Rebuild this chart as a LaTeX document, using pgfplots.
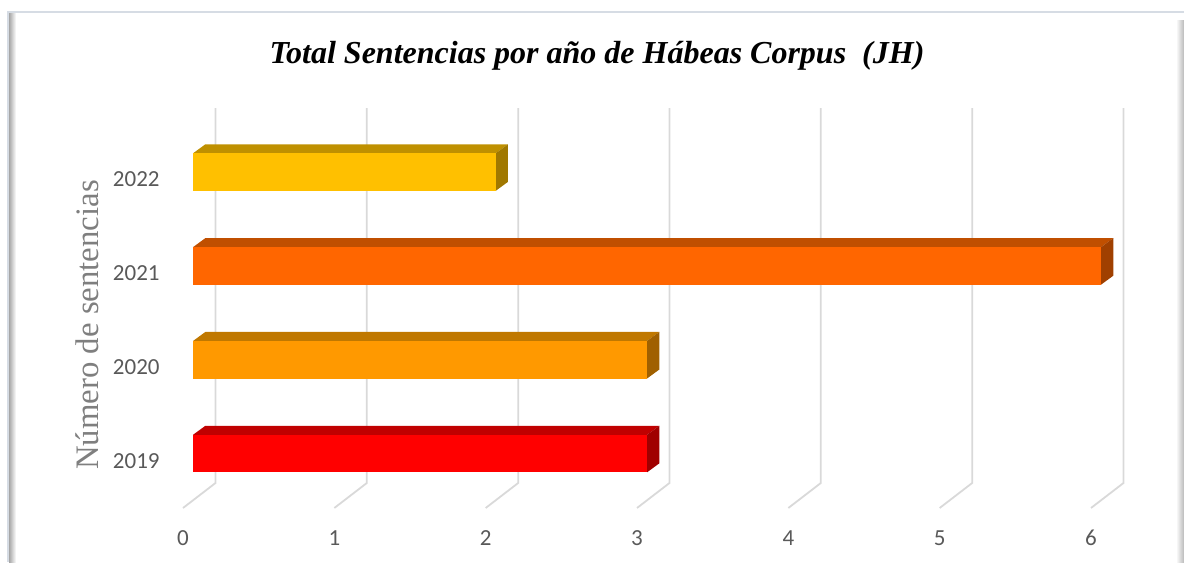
\documentclass[border=0pt]{standalone}
\usepackage{pgfplots}
\pgfplotsset{compat=1.18}
\usepackage{fontspec}
\setmainfont{Liberation Serif}
\newfontfamily\carlito{Carlito}

\definecolor{gridc}{HTML}{D9D9D9}
\definecolor{tickc}{HTML}{595959}
\definecolor{labelc}{HTML}{7F7F7F}
\definecolor{framec}{HTML}{D6DCE4}
% front / top / side of each bar
\definecolor{fA}{HTML}{FF0000}\definecolor{tA}{HTML}{C00000}\definecolor{sA}{HTML}{A00000}
\definecolor{fB}{HTML}{FF9900}\definecolor{tB}{HTML}{C07800}\definecolor{sB}{HTML}{A06000}
\definecolor{fC}{HTML}{FF6600}\definecolor{tC}{HTML}{C04F00}\definecolor{sC}{HTML}{A04000}
\definecolor{fD}{HTML}{FFC000}\definecolor{tD}{HTML}{BF9000}\definecolor{sD}{HTML}{A07800}

\begin{document}
\begin{tikzpicture}
\useasboundingbox (0pt,0pt) rectangle (592pt,282pt);
% chart frame and shadow
\shade[left color=gray!70, right color=white] (4.5pt,1pt) rectangle (8pt,275.5pt);
\shade[left color=white, right color=gray!55] (588pt,1pt) rectangle (592pt,272pt);
\draw[framec, line width=0.8pt] (4pt,1pt) -- (4pt,276pt) -- (592pt,276pt);

\node[anchor=base, font=\bfseries\itshape\fontsize{16}{19}\selectfont]
  at (298.5pt,250.5pt) {Total Sentencias por año de Hábeas Corpus~~(JH)};

% floor / wall plane: gridlines, ticks, labels
\begin{axis}[
  at={(91.5pt,28pt)}, anchor=south west,
  x=75.667pt, y=46.915pt,
  xmin=0, xmax=6, ymin=-0.5, ymax=3.77,
  axis lines*=left, axis line style={draw=none,-},
  xtick={0,1,2,3,4,5,6},
  ytick={0,1,2,3}, yticklabels={2019,2020,2021,2022},
  major tick length=0pt,
  /pgf/number format/assume math mode=true,
  ticklabel style={font=\carlito\fontsize{11.5}{13}\selectfont, text=tickc, inner sep=0pt},
  xticklabel style={anchor=center, yshift=-15pt},
  yticklabel style={anchor=east, xshift=-11.5pt},
  ylabel={Número de sentencias},
  ylabel style={at={(axis description cs:-0.1057,0.4568)}, anchor=center,
    font=\fontsize{16.4}{19}\selectfont, text=labelc},
  clip=false,
]
\addplot[gridc, line width=0.9pt] coordinates {(0,-0.5) (0.2148,-0.2335) (0.2148,3.762)};
\addplot[gridc, line width=0.9pt] coordinates {(1,-0.5) (1.2148,-0.2335) (1.2148,3.762)};
\addplot[gridc, line width=0.9pt] coordinates {(2,-0.5) (2.2148,-0.2335) (2.2148,3.762)};
\addplot[gridc, line width=0.9pt] coordinates {(3,-0.5) (3.2148,-0.2335) (3.2148,3.762)};
\addplot[gridc, line width=0.9pt] coordinates {(4,-0.5) (4.2148,-0.2335) (4.2148,3.762)};
\addplot[gridc, line width=0.9pt] coordinates {(5,-0.5) (5.2148,-0.2335) (5.2148,3.762)};
\addplot[gridc, line width=0.9pt] coordinates {(6,-0.5) (6.2148,-0.2335) (6.2148,3.762)};
\end{axis}

% bar plane, set back a little into the depth
\begin{axis}[
  at={(96.5pt,31.75pt)}, anchor=south west,
  x=75.667pt, y=46.915pt,
  xmin=0, xmax=6, ymin=-0.5, ymax=3.77,
  hide axis, clip=false,
  every axis plot/.append style={draw=none},
]
% 2019 : 3
\addplot[fill=tA] coordinates {(0,0.2) (3,0.2) (3.0813,0.2959) (0.0813,0.2959)};
\addplot[fill=sA] coordinates {(3,-0.2) (3,0.2) (3.0813,0.2959) (3.0813,-0.1041)};
\addplot[xbar, bar width=18.75pt, bar shift=0pt, fill=fA] coordinates {(3,0)};
% 2020 : 3
\addplot[fill=tB] coordinates {(0,1.2) (3,1.2) (3.0813,1.2959) (0.0813,1.2959)};
\addplot[fill=sB] coordinates {(3,0.8) (3,1.2) (3.0813,1.2959) (3.0813,0.8959)};
\addplot[xbar, bar width=18.75pt, bar shift=0pt, fill=fB] coordinates {(3,1)};
% 2021 : 6
\addplot[fill=tC] coordinates {(0,2.2) (6,2.2) (6.0813,2.2959) (0.0813,2.2959)};
\addplot[fill=sC] coordinates {(6,1.8) (6,2.2) (6.0813,2.2959) (6.0813,1.8959)};
\addplot[xbar, bar width=18.75pt, bar shift=0pt, fill=fC] coordinates {(6,2)};
% 2022 : 2
\addplot[fill=tD] coordinates {(0,3.2) (2,3.2) (2.0813,3.2959) (0.0813,3.2959)};
\addplot[fill=sD] coordinates {(2,2.8) (2,3.2) (2.0813,3.2959) (2.0813,2.8959)};
\addplot[xbar, bar width=18.75pt, bar shift=0pt, fill=fD] coordinates {(2,3)};
\end{axis}
\end{tikzpicture}
\end{document}
